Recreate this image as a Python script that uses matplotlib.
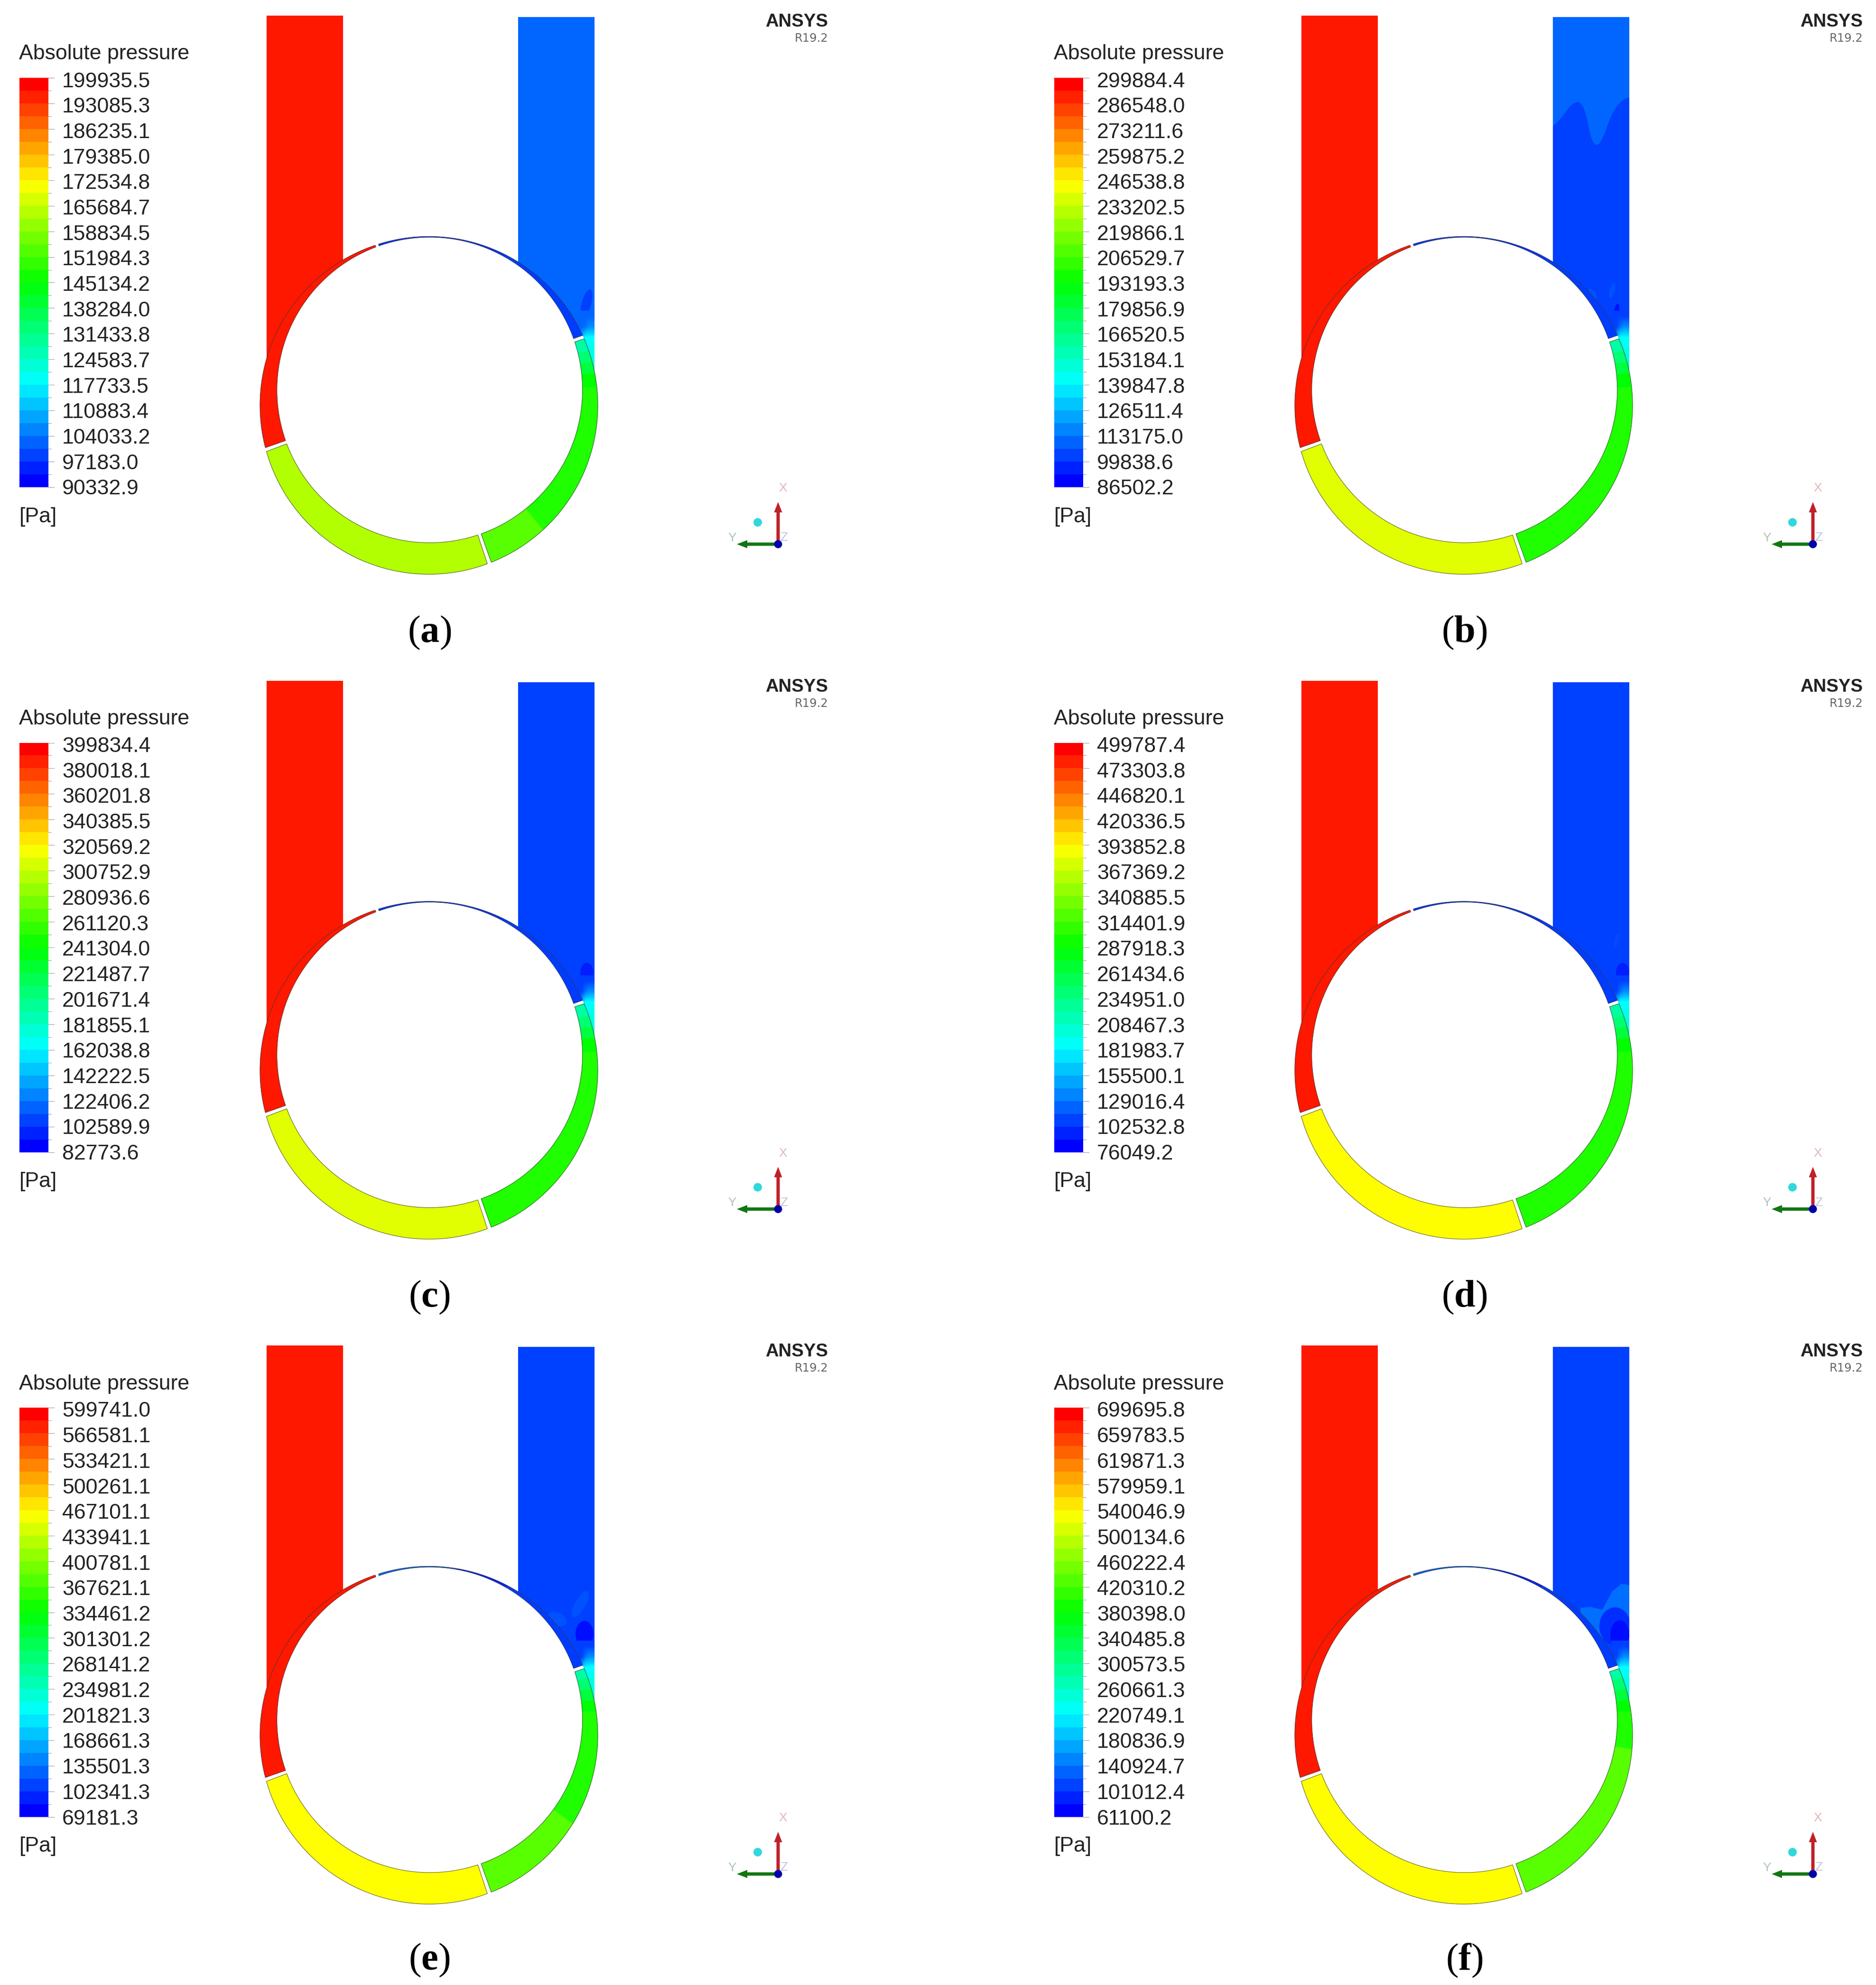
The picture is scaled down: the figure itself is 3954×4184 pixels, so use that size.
import numpy as np
import matplotlib
matplotlib.use("Agg")
import matplotlib.pyplot as plt
from matplotlib.colors import LinearSegmentedColormap, Normalize
from matplotlib.patches import Circle, Ellipse, FancyArrow, PathPatch, Polygon, Rectangle
from matplotlib.path import Path

plt.rcParams['font.family'] = ['Liberation Sans', 'DejaVu Sans']
plt.rcParams['mathtext.fontset'] = 'custom'
plt.rcParams['mathtext.rm'] = 'Liberation Serif'
plt.rcParams['mathtext.bf'] = 'Liberation Serif:bold'

# legend values of each contour plot [Pa]
legend_a = [199935.5, 193085.3, 186235.1, 179385.0, 172534.8, 165684.7, 158834.5, 151984.3, 145134.2,
            138284.0, 131433.8, 124583.7, 117733.5, 110883.4, 104033.2, 97183.0, 90332.9]
legend_b = [299884.4, 286548.0, 273211.6, 259875.2, 246538.8, 233202.5, 219866.1, 206529.7, 193193.3,
            179856.9, 166520.5, 153184.1, 139847.8, 126511.4, 113175.0, 99838.6, 86502.2]
legend_c = [399834.4, 380018.1, 360201.8, 340385.5, 320569.2, 300752.9, 280936.6, 261120.3, 241304.0,
            221487.7, 201671.4, 181855.1, 162038.8, 142222.5, 122406.2, 102589.9, 82773.6]
legend_d = [499787.4, 473303.8, 446820.1, 420336.5, 393852.8, 367369.2, 340885.5, 314401.9, 287918.3,
            261434.6, 234951.0, 208467.3, 181983.7, 155500.1, 129016.4, 102532.8, 76049.2]
legend_e = [599741.0, 566581.1, 533421.1, 500261.1, 467101.1, 433941.1, 400781.1, 367621.1, 334461.2,
            301301.2, 268141.2, 234981.2, 201821.3, 168661.3, 135501.3, 102341.3, 69181.3]
legend_f = [699695.8, 659783.5, 619871.3, 579959.1, 540046.9, 500134.6, 460222.4, 420310.2, 380398.0,
            340485.8, 300573.5, 260661.3, 220749.1, 180836.9, 140924.7, 101012.4, 61100.2]
legends = [legend_a, legend_b, legend_c, legend_d, legend_e, legend_f]
panel_names = ['a', 'b', 'c', 'd', 'e', 'f']

# pressure: inlet and the red sector, outlet, bottom sector
inlet_p = [197196, 294550, 391908, 489194, 586477, 683731]
outlet_p = [101293, 99950, 102750, 102745, 102600, 101330]
bottom_p = [164040, 240137, 311058, 393853, 467101, 540047]

# upper part of the outlet in (b) is one band lighter
outlet_upper_b = 107840

# top sector, in steps of angle
top_deg = [19, 60, 80, 110]
top_p = [[96909, 95813, 95813],
         [99305, 97171, 97171],
         [101798, 98627, 98627],
         [101473, 97236, 97236],
         [101014, 85098, 122237],
         [99416, 80258, 124960]]

# right sector, in steps of angle, bottom end first
right_deg = [[289, 309, 361, 366, 370, 374, 379],
             [289, 300, 361, 366, 370, 374, 379],
             [289, 300, 361, 366, 370, 374, 379],
             [289, 300, 361, 366, 370, 374, 379],
             [289, 324, 363, 367, 371, 375, 379],
             [289, 350, 363, 367, 371, 375, 379]]
right_p = [[154450, 148420, 145134, 138559, 133078, 127598],
           [199595, 199595, 193193, 180390, 169721, 159052],
           [250816, 250816, 241304, 222281, 206428, 190575],
           [300630, 300630, 287918, 262494, 241307, 220120],
           [379559, 350378, 334461, 302627, 276099, 249571],
           [434679, 399556, 380398, 342082, 310152, 278222]]

# small patches in the outlet: pressure of each one
blob_p = [[97235],
          [104000, 104000, 90000],
          [92286, 92286],
          [108000, 88761, 88761],
          [112000, 112000, 77139],
          [130000, 89837, 68763]]
# where they sit, as x, y, width, height, angle
blob_shapes = [[(1236, 640, 20, 62, 15)],
               [(1217, 612, 10, 34, 15), (1176, 620, 14, 26, -30), (1226, 658, 11, 36, 10)],
               [(1237, 649, 28, 42, 0), (1225, 670, 16, 24, 0)],
               [(1226, 581, 8, 32, 12), (1239, 649, 28, 42, 0), (1227, 670, 16, 24, 0)],
               [(1223, 578, 22, 62, 30), (1174, 610, 42, 28, 25), (1232, 641, 38, 55, 0)],
               [(0, 0, 0, 0, 0), (1223, 625, 66, 80, 0), (1233, 643, 40, 62, 0)]]
f_patch_outline = [(1150, 586), (1171, 584), (1196, 590), (1217, 551), (1237, 535), (1258, 539),
                   (1258, 655), (1217, 660), (1187, 645), (1150, 598)]
b_wave = [(1094, 266), (1109, 251), (1130, 220), (1150, 212), (1163, 243), (1171, 289), (1184, 311),
          (1199, 289), (1214, 243), (1235, 212), (1258, 203)]

# warm spot in the outlet next to the gap, as a share of the colour scale, -1 = same as the outlet
hot_levels = [[-1, -1, -1, -1, -1],
              [-1, -1, .11, .14, .14],
              [-1, .18, .25, .25, .25],
              [.12, .22, .26, .27, .27],
              [.20, .26, .28, .28, .28],
              [.25, .28, .30, .30, .30]]

caption_y = [1334, 2735, 4132]

colour_stops = ['#0000ff', '#00ffff', '#00ff00', '#ffff00', '#ff0000']
FIELD_CMAP = LinearSegmentedColormap.from_list('field', colour_stops, N=512)
BAND_CMAP = LinearSegmentedColormap.from_list('bands', colour_stops, N=32)

# layout, in pixels of the output picture
W, H = 3954, 4184
TEXT_COL, GEO_COL, ROW_STEP = 2181, 2181, 1401.5
INNER_X, INNER_Y, INNER_R = 905.7, 822, 322
OUTER_X, OUTER_Y, OUTER_R = 904, 854.4, 356
GAP_DEG = 0.65
FS = 32.1

fig = plt.figure(figsize=(W / 100, H / 100), dpi=100)
ax = fig.add_axes([0, 0, 1, 1])


def ray_length(deg):
    # distance from the inner centre to the outer circle along this direction
    rad = np.radians(deg)
    dx, dy = INNER_X - OUTER_X, OUTER_Y - INNER_Y
    b = dx * np.cos(rad) + dy * np.sin(rad)
    return -b + np.sqrt(b ** 2 - (dx ** 2 + dy ** 2 - OUTER_R ** 2))


def sector_points(x0, y0, a1, a2):
    th = np.linspace(a1, a2, 90)
    rad = np.radians(th)
    r_out = ray_length(th)
    outer = np.c_[x0 + INNER_X + r_out * np.cos(rad), y0 + INNER_Y - r_out * np.sin(rad)]
    inner = np.c_[x0 + INNER_X + INNER_R * np.cos(rad), y0 + INNER_Y - INNER_R * np.sin(rad)]
    return np.vstack([outer, inner[::-1]])


def draw_sector(x0, y0, edges, values, norm):
    a_start = edges[0] + GAP_DEG
    a_end = edges[-1] - GAP_DEG
    for i, val in enumerate(values):
        a1 = max(edges[i], a_start)
        a2 = min(edges[i + 1], a_end)
        c = FIELD_CMAP(norm(val))
        ax.add_patch(Polygon(sector_points(x0, y0, a1, a2), closed=True, facecolor=c, edgecolor=c,
                             linewidth=0.4, zorder=4))
    ax.add_patch(Polygon(sector_points(x0, y0, a_start, a_end), closed=True, fill=False,
                         edgecolor='#333333', linewidth=0.8, alpha=0.75, zorder=5))


def smooth_path(points):
    # quadratic curve through the midpoints of a list of points
    verts = [points[0]]
    codes = [Path.MOVETO]
    for i in range(1, len(points) - 1):
        mid = ((points[i][0] + points[i + 1][0]) / 2, (points[i][1] + points[i + 1][1]) / 2)
        verts += [points[i], mid]
        codes += [Path.CURVE3, Path.CURVE3]
    verts.append(points[-1])
    codes.append(Path.LINETO)
    return verts, codes


def draw_legend(x0, y0, values, norm):
    ax.text(x0 + 40, y0 + 114, 'Absolute pressure', fontsize=FS, color='#222222', ha='left', va='center')
    top, bottom = y0 + 164, y0 + 1027
    edges_p = np.linspace(norm.vmin, norm.vmax, 33)
    edges_y = bottom - norm(edges_p) * (bottom - top)
    mids = (edges_p[:-1] + edges_p[1:]) / 2
    ax.pcolormesh([x0 + 41, x0 + 102], edges_y, mids[:, None], cmap=BAND_CMAP, norm=norm, zorder=2)
    for i, yy in enumerate(edges_y):
        tick = 12 if i % 2 == 0 else 6
        ax.plot([x0 + 102, x0 + 102 + tick], [yy, yy], color='#999999', lw=0.7, zorder=2)
    for i, val in enumerate(values):
        yy = y0 + 172 + i * (1031 - 172) / 16
        ax.text(x0 + 131, yy, '%.1f' % val, fontsize=FS, color='#222222', ha='left', va='center')
    ax.text(x0 + 41, y0 + 1089, '[Pa]', fontsize=FS, color='#222222', ha='left', va='center')


def draw_triad(x0, y0):
    ax.add_patch(FancyArrow(x0 + 1640, y0 + 1147, 0, -89, width=7, head_width=17, head_length=22,
                            length_includes_head=True, facecolor='#c0202a', edgecolor='none', zorder=6))
    ax.add_patch(FancyArrow(x0 + 1640, y0 + 1147, -87, 0, width=7, head_width=17, head_length=22,
                            length_includes_head=True, facecolor='#117711', edgecolor='none', zorder=6))
    ax.add_patch(Circle((x0 + 1640, y0 + 1147), 8.5, facecolor='#0000a8', edgecolor='none', zorder=7))
    ax.add_patch(Circle((x0 + 1597, y0 + 1101), 9, facecolor='#30d8dc', edgecolor='none', zorder=7))
    ax.text(x0 + 1650, y0 + 1029, 'X', fontsize=19, color='#e0b8b8', ha='center', va='center')
    ax.text(x0 + 1543, y0 + 1134, 'Y', fontsize=19, color='#b0c4b4', ha='center', va='center')
    ax.text(x0 + 1652, y0 + 1133, 'Z', fontsize=19, color='#c0c4dc', ha='center', va='center')


for n, name in enumerate(panel_names):
    col, row = n % 2, n // 2
    y0 = row * ROW_STEP
    x0 = col * GEO_COL
    xt = col * TEXT_COL
    values = legends[n]
    norm = Normalize(values[-1], values[0])

    draw_legend(xt, y0, values, norm)

    # inlet and outlet channels, the white disc hides what runs below the ring
    ax.add_patch(Rectangle((x0 + 562, y0 + 33), 161, 760, facecolor=FIELD_CMAP(norm(inlet_p[n])),
                           edgecolor='none', zorder=1))
    outlet_colour = FIELD_CMAP(norm(outlet_p[n]))
    outlet_rect = Rectangle((x0 + 1092, y0 + 36), 161, 754, facecolor=outlet_colour, edgecolor='none', zorder=1)
    ax.add_patch(outlet_rect)

    if name == 'b':
        verts, codes = smooth_path([(x0 + px, y0 + py) for px, py in b_wave])
        verts = [(x0 + 1092, y0 + 36), (x0 + 1092, verts[0][1])] + verts[1:] + [(x0 + 1258, y0 + 36), (x0 + 1092, y0 + 36)]
        codes = [Path.MOVETO, Path.LINETO] + codes[1:] + [Path.LINETO, Path.CLOSEPOLY]
        upper = PathPatch(Path(verts, codes), facecolor=FIELD_CMAP(norm(outlet_upper_b)),
                          edgecolor='none', zorder=1.1)
        ax.add_patch(upper)
        upper.set_clip_path(outlet_rect)
    if name == 'f':
        region = Polygon([(x0 + px, y0 + py) for px, py in f_patch_outline], closed=True,
                         facecolor=FIELD_CMAP(norm(blob_p[n][0])), edgecolor='none', zorder=1.2)
        ax.add_patch(region)
        region.set_clip_path(outlet_rect)

    for shape, val in zip(blob_shapes[n], blob_p[n]):
        if shape[2] == 0:
            continue
        blob = Ellipse((x0 + shape[0], y0 + shape[1]), shape[2], shape[3], angle=shape[4],
                       facecolor=FIELD_CMAP(norm(val)), edgecolor='none', zorder=1.3)
        ax.add_patch(blob)
        blob.set_clip_path(outlet_rect)

    hot = np.array(hot_levels, dtype=float)
    hot = np.where(hot < 0, outlet_p[n], norm.vmin + hot * (norm.vmax - norm.vmin))
    ax.imshow(hot, cmap=FIELD_CMAP, norm=norm, aspect='auto', interpolation='bilinear',
              extent=[x0 + 1215, x0 + 1253, y0 + 790, y0 + 655], zorder=1.5)

    ax.add_patch(Circle((x0 + OUTER_X, y0 + OUTER_Y), OUTER_R, facecolor='white', edgecolor='none', zorder=3))

    draw_sector(x0, y0, top_deg, top_p[n], norm)
    draw_sector(x0, y0, [110, 200], [inlet_p[n]], norm)
    draw_sector(x0, y0, [200, 289], [bottom_p[n]], norm)
    draw_sector(x0, y0, right_deg[n], right_p[n], norm)

    ax.text(xt + 1745, y0 + 46, 'ANSYS', fontsize=27.5, fontweight='bold', color='#222222', ha='right', va='center')
    ax.text(xt + 1745, y0 + 81, 'R19.2', fontsize=17.5, family=['DejaVu Sans'], color='#666666',
            ha='right', va='center')
    draw_triad(x0, y0)

    ax.text(x0 + 905, caption_y[row], r'$\mathrm{(}\mathbf{%s}\mathrm{)}$' % name, fontsize=58,
            color='black', ha='center', va='center')

ax.set_xlim(0, W)
ax.set_ylim(H, 0)
ax.axis('off')
fig.savefig('out.png', dpi=100, facecolor='white')
